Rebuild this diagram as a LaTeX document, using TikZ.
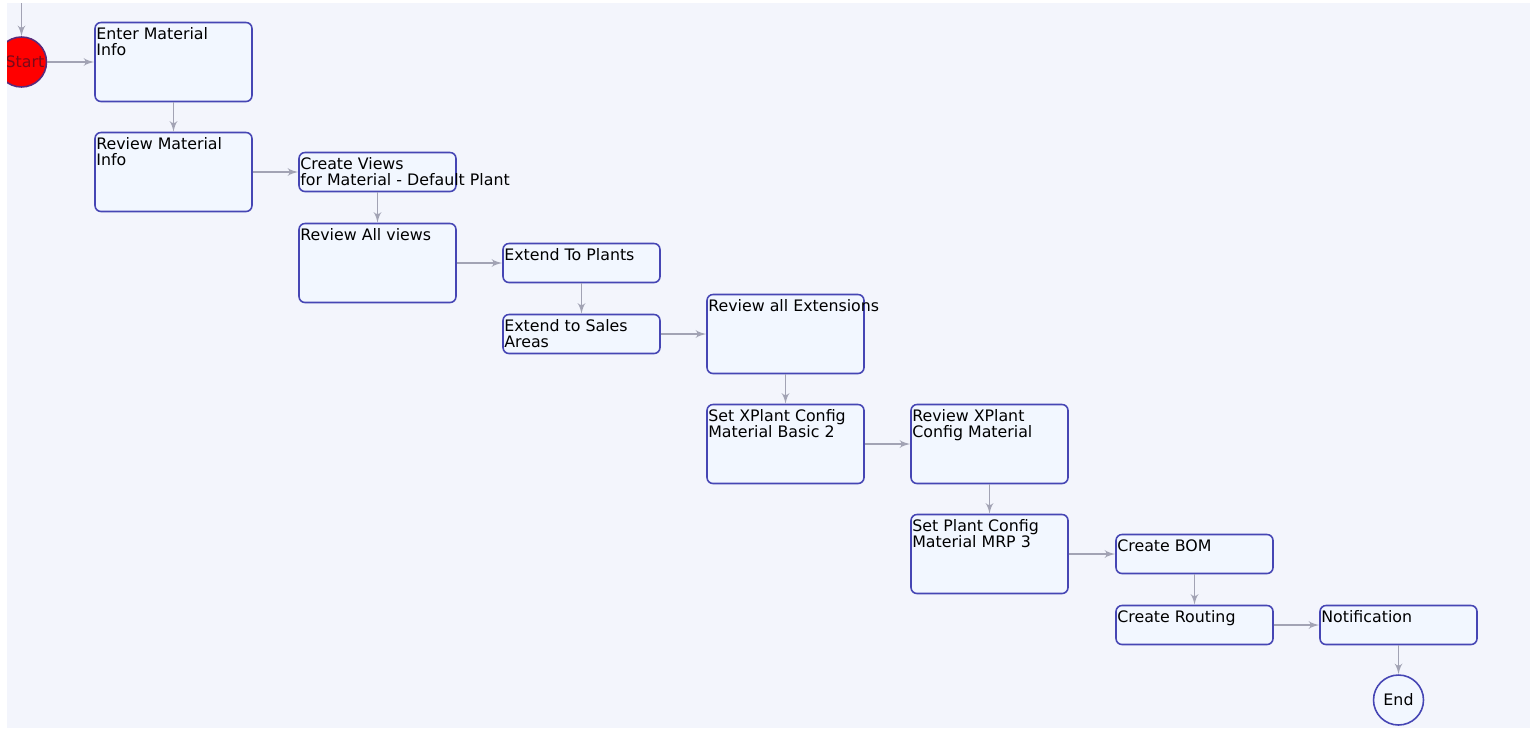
\documentclass[tikz,border=0pt]{standalone}
\usepackage{fontspec}
\setmainfont{DejaVu Sans}
\usetikzlibrary{arrows, positioning}
\definecolor{pagebg}{HTML}{F3F5FC}
\definecolor{boxfill}{HTML}{F2F7FF}
\definecolor{boxline}{HTML}{4646B4}
\definecolor{edgegray}{HTML}{A2A3B4}
\definecolor{startline}{HTML}{5A2A7A}
\definecolor{starttext}{HTML}{7A0A1A}

\begin{document}
\begin{tikzpicture}[x=0.02cm, y=-0.02cm]
		\tikzset{task/.style = {shape=rectangle, rounded corners=0.12cm, draw=boxline, fill=boxfill, line width=0.9pt, minimum width=3.14cm, minimum height=0.78cm, inner sep=0pt}}
		\tikzset{bigtask/.style = {task, minimum height=1.58cm}}
		\tikzset{txt/.style = {anchor=north west, align=left, inner xsep=1pt, inner ysep=3.2pt, font=\fontsize{9}{9.1}\selectfont}}
		\tikzset{event/.style = {shape=circle, draw=boxline, fill=boxfill, line width=0.9pt, minimum size=1cm, inner sep=0pt, font=\fontsize{9}{9.1}\selectfont}}
		\tikzset{edge/.style = {->, >=latex', draw=edgegray, line width=1.1pt}}

		\fill[pagebg] (0,0) rectangle (1530,728);
		\useasboundingbox (0,0) rectangle (1530,728);

		\node[event, fill=red, draw=startline, text=starttext] (start) at (21.5,62) {\hspace{4pt}Start};
		\coordinate (entry) at (21.5,3);

		\node[bigtask, label={[txt]north west:Enter Material\\Info}] (enter) at (173.5,62) {};
		\node[bigtask, label={[txt]north west:Review Material\\Info}] (revinfo) at (173.5,172) {};
		\node[task, label={[txt]north west:Create Views\\for Material - Default Plant}] (views) at (377.5,172) {};
		\node[bigtask, label={[txt]north west:Review All views}] (revviews) at (377.5,263) {};
		\node[task, label={[txt]north west:Extend To Plants}] (plants) at (581.5,263) {};
		\node[task, label={[txt]north west:Extend to Sales\\Areas}] (sales) at (581.5,334) {};
		\node[bigtask, label={[txt]north west:Review all Extensions}] (revext) at (785.5,334) {};
		\node[bigtask, label={[txt]north west:Set XPlant Config\\Material Basic 2}] (xbasic) at (785.5,444) {};
		\node[bigtask, label={[txt]north west:Review XPlant\\Config Material}] (xreview) at (989.5,444) {};
		\node[bigtask, label={[txt]north west:Set Plant Config\\Material MRP 3}] (mrp) at (989.5,554) {};
		\node[task, label={[txt]north west:Create BOM}] (bom) at (1194.5,554) {};
		\node[task, label={[txt]north west:Create Routing}] (routing) at (1194.5,625) {};
		\node[task, label={[txt]north west:Notification}] (notif) at (1398.5,625) {};
		\node[event] (end) at (1398.5,700) {End};

		\draw[edge] (entry) -- (start);
		\draw[edge] (start) -- (enter);
		\draw[edge] (enter) -- (revinfo);
		\draw[edge] (revinfo) -- (views);
		\draw[edge] (views) -- (revviews);
		\draw[edge] (revviews) -- (plants);
		\draw[edge] (plants) -- (sales);
		\draw[edge] (sales) -- (revext);
		\draw[edge] (revext) -- (xbasic);
		\draw[edge] (xbasic) -- (xreview);
		\draw[edge] (xreview) -- (mrp);
		\draw[edge] (mrp) -- (bom);
		\draw[edge] (bom) -- (routing);
		\draw[edge] (routing) -- (notif);
		\draw[edge] (notif) -- (end);

		% white margin strips of the canvas
		\fill[white] (0,0) rectangle (7,728);
		\fill[white] (0,0) rectangle (1530,3);

	\end{tikzpicture}
\end{document}
